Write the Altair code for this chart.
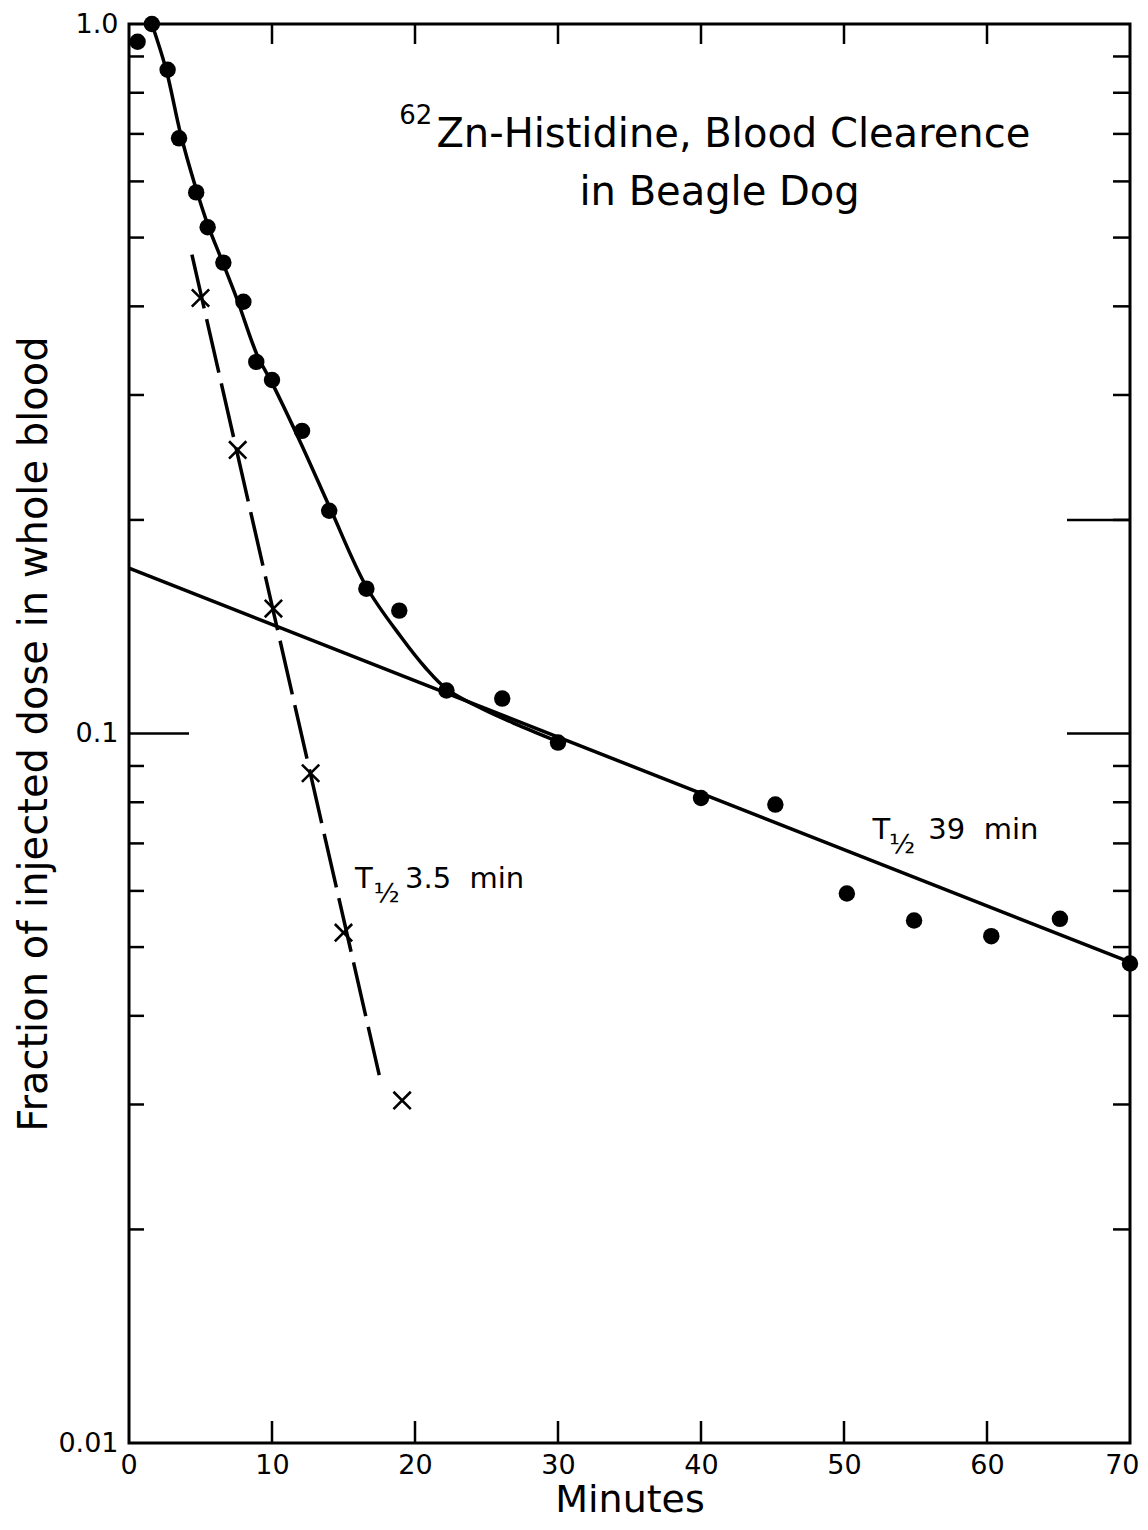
import altair as alt
import pandas as pd

# ---------------- data ----------------
dot_minutes = [0.6, 1.6, 2.7, 3.5, 4.7, 5.5, 6.6, 8.0, 8.9, 10.0, 12.1, 14.0,
               16.6, 18.9, 22.2, 26.1, 30.0, 40.0, 45.2, 50.2, 54.9, 60.3, 65.1, 70.0]
dot_fraction = [0.944, 1.0, 0.862, 0.690, 0.579, 0.517, 0.461, 0.406, 0.334, 0.315,
                0.267, 0.206, 0.160, 0.149, 0.115, 0.112, 0.0971, 0.0811, 0.0794,
                0.0595, 0.0545, 0.0518, 0.0548, 0.0474]

cross_minutes = [5.0, 7.6, 10.1, 12.7, 15.0, 19.1]
cross_fraction = [0.411, 0.251, 0.150, 0.0879, 0.0524, 0.0304]

slow_minutes = [0.0, 70.0]
slow_fraction = [0.171, 0.0476]

fast_minutes = [4.4, 17.5]
fast_fraction = [0.473, 0.033]

curve_minutes = [1.6, 2.6, 3.6, 4.6, 5.5, 6.5, 7.6, 8.95, 10.0, 12.0, 14.1, 16.6,
                 19.0, 20.7, 22.2, 24.8, 27.3, 30.0]
curve_fraction = [1.0, 0.862, 0.701, 0.594, 0.522, 0.464, 0.407, 0.342, 0.312,
                  0.257, 0.207, 0.161, 0.137, 0.124, 0.1156, 0.1081, 0.1026, 0.0974]

x_label_values = [0, 10, 20, 30, 40, 50, 60, 70]
x_inner_ticks = [10, 20, 30, 40, 50, 60]
y_label_values = [0.01, 0.1, 1.0]
y_minor_ticks = [0.02, 0.03, 0.04, 0.05, 0.06, 0.07, 0.08, 0.09,
                 0.2, 0.3, 0.4, 0.5, 0.6, 0.7, 0.8, 0.9]
y_left_long = [0.1]
y_right_long = [0.1, 0.2]

# annotation texts (anchored in data coordinates)
ann_left_text = ["62", "Zn-Histidine, Blood Clearence", "T", "\u00bd", "39 \u00a0min",
                 "T", "\u00bd", "3.5 \u00a0min"]
ann_left_minutes = [18.9, 21.5, 52.0, 53.15, 55.9, 15.8, 17.1, 19.3]
ann_left_fraction = [0.722, 0.670, 0.0710, 0.0679, 0.0710, 0.0606, 0.0578, 0.0606]
ann_left_size = [26, 40, 29, 27, 29, 29, 27, 29]

ann_center_text = ["in Beagle Dog"]
ann_center_minutes = [41.3]
ann_center_fraction = [0.556]

# ---------------- chart ----------------
W, H = 1001, 1419
FONT = "DejaVu Sans"

x_scale = alt.Scale(domain=[0, 70], nice=False, zero=False)
y_scale = alt.Scale(type="log", domain=[0.01, 1.0], nice=False)

x_axis = alt.Axis(values=x_label_values, ticks=False, tickSize=0, domain=False, grid=False,
                  labelFont=FONT, labelColor="black",
                  labelFontSize=27, labelPadding=9, labelFlush=True, labelFlushOffset=9,
                  labelOverlap=False,
                  title="Minutes", titleFont=FONT, titleColor="black",
                  titleFontSize=38, titleFontWeight="normal",
                  titleX=W / 2, titleY=68, titleBaseline="alphabetic", titleAlign="center")
y_axis = alt.Axis(values=y_label_values, ticks=False, tickSize=0, domain=False, grid=False,
                  labelFont=FONT, labelColor="black",
                  labelFontSize=27, labelPadding=11, labelOverlap=False,
                  labelExpr="datum.value >= 0.5 ? '1.0' : (datum.value >= 0.05 ? '0.1' : '0.01')",
                  title="Fraction of injected dose in whole blood", titleFont=FONT,
                  titleColor="black", titleFontSize=40,
                  titleFontWeight="normal", titleAngle=270, titleX=-83, titleY=H / 2,
                  titleBaseline="alphabetic", titleAlign="center")


def X():
    return alt.X("m:Q", scale=x_scale, axis=x_axis)


def Y():
    return alt.Y("f:Q", scale=y_scale, axis=y_axis)


def frame(mins, fracs):
    return pd.DataFrame({"m": mins, "f": fracs})


TW = 2.5
left_minor = alt.Chart(pd.DataFrame({"f": y_minor_ticks})).mark_rule(color="black", strokeWidth=TW).encode(
    y=Y(), x=alt.value(0), x2=alt.value(15))
left_long = alt.Chart(pd.DataFrame({"f": y_left_long})).mark_rule(color="black", strokeWidth=TW).encode(
    y=Y(), x=alt.value(0), x2=alt.value(60))
right_minor = alt.Chart(pd.DataFrame({"f": y_minor_ticks})).mark_rule(color="black", strokeWidth=TW).encode(
    y=Y(), x=alt.value(W), x2=alt.value(W - 17))
right_long = alt.Chart(pd.DataFrame({"f": y_right_long})).mark_rule(color="black", strokeWidth=TW).encode(
    y=Y(), x=alt.value(W), x2=alt.value(W - 63))
top_ticks = alt.Chart(pd.DataFrame({"m": x_inner_ticks})).mark_rule(color="black", strokeWidth=TW).encode(
    x=X(), y=alt.value(0), y2=alt.value(20))
bottom_ticks = alt.Chart(pd.DataFrame({"m": x_inner_ticks})).mark_rule(color="black", strokeWidth=TW).encode(
    x=X(), y=alt.value(H), y2=alt.value(H - 22))

slow_line = alt.Chart(frame(slow_minutes, slow_fraction)).mark_line(
    color="black", strokeWidth=3.5).encode(x=X(), y=Y())
fast_line = alt.Chart(frame(fast_minutes, fast_fraction)).mark_line(
    color="black", strokeWidth=3.5, strokeDash=[55, 11]).encode(x=X(), y=Y())
curve_line = alt.Chart(frame(curve_minutes, curve_fraction)).mark_line(
    color="black", strokeWidth=3.5, interpolate="catmull-rom").encode(x=X(), y=Y())

dots = alt.Chart(frame(dot_minutes, dot_fraction)).mark_circle(
    color="black", size=270, opacity=1).encode(x=X(), y=Y())
crosses = alt.Chart(frame(cross_minutes, cross_fraction)).mark_point(
    shape="M-1,-1L1,1M-1,1L1,-1", filled=False, color="black", size=300,
    strokeWidth=2.6, opacity=1).encode(x=X(), y=Y())

ann_left_df = pd.DataFrame({"m": ann_left_minutes, "f": ann_left_fraction,
                            "t": ann_left_text, "s": ann_left_size})
ann_left = alt.Chart(ann_left_df).mark_text(
    align="left", baseline="alphabetic", font=FONT, color="black").encode(
    x=X(), y=Y(), text="t:N", size=alt.Size("s:Q", scale=None, legend=None))

ann_center_df = pd.DataFrame({"m": ann_center_minutes, "f": ann_center_fraction,
                              "t": ann_center_text})
ann_center = alt.Chart(ann_center_df).mark_text(
    align="center", baseline="alphabetic", font=FONT, color="black", fontSize=40).encode(
    x=X(), y=Y(), text="t:N")

chart = alt.layer(
    left_minor, left_long, right_minor, right_long, top_ticks, bottom_ticks,
    slow_line, fast_line, curve_line, dots, crosses, ann_left, ann_center
).properties(
    width=W, height=H,
    background="white",
    autosize=alt.AutoSizeParams(type="none"),
    padding={"left": 121, "top": 16, "right": 10, "bottom": 78},
).configure_view(
    stroke="black", strokeWidth=3
).configure_axis(
    labelFont=FONT, titleFont=FONT, labelColor="black", titleColor="black"
)

chart.save("out.html", embed_options={"renderer": "svg", "actions": False})
